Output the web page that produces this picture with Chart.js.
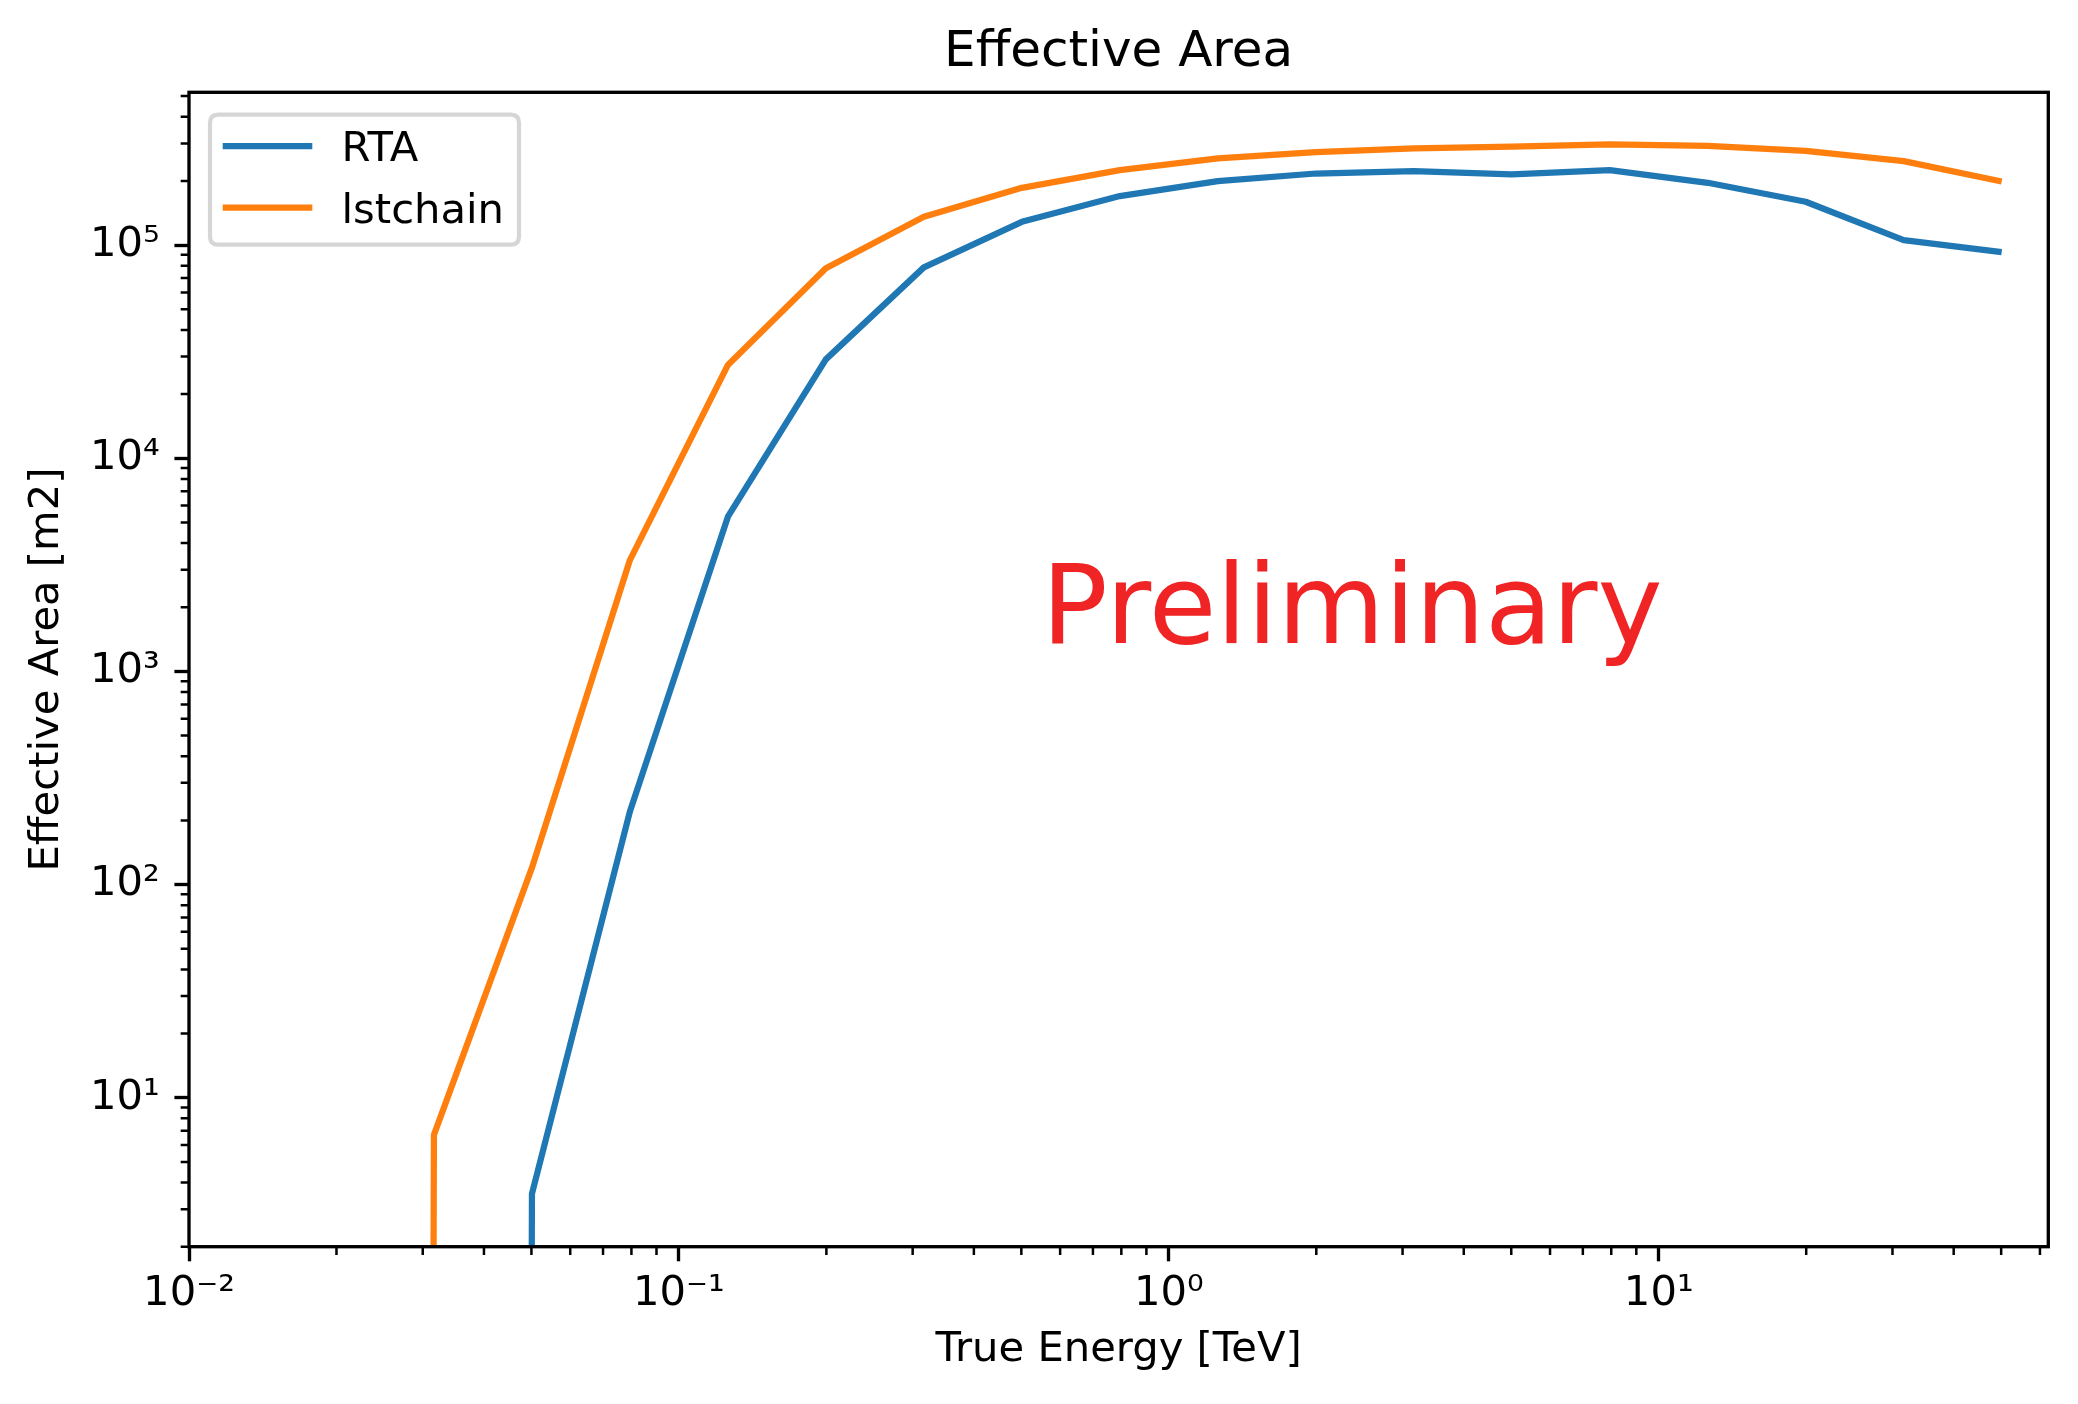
<!DOCTYPE html>
<html>
<head>
<meta charset="utf-8">
<script src="https://cdn.jsdelivr.net/npm/chart.js@4.4.0/dist/chart.umd.min.js"></script>
<style>
  html, body { margin: 0; padding: 0; background: #ffffff; }
  canvas { display: block; }
</style>
</head>
<body>
<canvas id="chart" width="2078" height="1404" style="width:2078px;height:1404px"></canvas>
<script>
// ---------------- data ----------------
const energyTeV = [0.01259, 0.01995, 0.03162, 0.05012, 0.07943, 0.1259, 0.1995, 0.3162, 0.5012, 0.7943,
                   1.259, 1.995, 3.162, 5.012, 7.943, 12.59, 19.95, 31.62, 50.12];
const rtaArea = [0, 0, 0, 3.54, 220, 5320, 29100, 78600, 128600, 169800,
                 199600, 216700, 222200, 214600, 224900, 196000, 159700, 105600, 92700];
const lstchainArea = [0, 0, 6.69, 120, 3330, 27400, 77800, 135800, 185600, 224900,
                      255000, 273000, 284000, 290000, 296500, 292300, 277000, 247700, 198700];
const seriesLabels = ['RTA', 'lstchain'];
const xMajorTicks = [0.01, 0.1, 1, 10];
const yMajorTicks = [10, 100, 1000, 10000, 100000];
const xRange = [0.01, 62.4];
const yRange = [2.0, 5.21e5];
const chartTitle = 'Effective Area';
const xTitle = 'True Energy [TeV]';
const yTitle = 'Effective Area [m2]';
const watermarkText = 'Preliminary';

// ---------------- style ----------------
const FONT = 'DejaVu Sans';
const FS = 41.7;            // 10 pt at 300 dpi
const MAJOR_LEN = 14.6, MINOR_LEN = 8.33, MAJOR_W = 3.33, MINOR_W = 2.5, SPINE_W = 3.33;
const LINE_W = 6.25;
const COLORS = ['#1f77b4', '#ff7f0e'];

Chart.defaults.font.family = FONT;
Chart.defaults.color = '#000000';

const SUP = {'-': '\u207B', '0': '\u2070', '1': '\u00B9', '2': '\u00B2', '3': '\u00B3',
             '4': '\u2074', '5': '\u2075', '6': '\u2076', '7': '\u2077', '8': '\u2078', '9': '\u2079'};
function logLabel(v) {
  const e = String(Math.round(Math.log10(v)));
  return '10' + e.split('').map(c => SUP[c]).join('');
}
function minorValues(min, max) {
  const out = [];
  for (let k = Math.floor(Math.log10(min)) - 1; k <= Math.ceil(Math.log10(max)); k++) {
    for (let m = 2; m <= 9; m++) {
      const v = m * Math.pow(10, k);
      if (v >= min * 0.9995 && v <= max * 1.0005) out.push(v);
    }
  }
  return out;
}
// matplotlib clips non-positive values on a log axis far below the axis,
// which makes the curve drop vertically out of the frame.
function toPoints(values) {
  return energyTeV.map((e, i) => ({ x: e, y: values[i] > 0 ? values[i] : 1e-300 }));
}

const decorPlugin = {
  id: 'mplDecor',
  afterDatasetsDraw(chart) {
    const ctx = chart.ctx;
    const ca = chart.chartArea;
    const xs = chart.scales.x, ys = chart.scales.y;
    const w = ca.right - ca.left, h = ca.bottom - ca.top;
    ctx.save();
    // minor ticks
    ctx.strokeStyle = '#000';
    ctx.lineWidth = MINOR_W;
    ctx.beginPath();
    minorValues(xs.min, xs.max).forEach(v => {
      const px = xs.getPixelForValue(v);
      ctx.moveTo(px, ca.bottom);
      ctx.lineTo(px, ca.bottom + MINOR_LEN);
    });
    minorValues(ys.min, ys.max).forEach(v => {
      const py = ys.getPixelForValue(v);
      ctx.moveTo(ca.left, py);
      ctx.lineTo(ca.left - MINOR_LEN, py);
    });
    ctx.stroke();
    // spines
    ctx.lineWidth = SPINE_W;
    ctx.strokeRect(ca.left, ca.top, w, h);

    // watermark text
    ctx.fillStyle = '#f02424';
    ctx.font = '110px "' + FONT + '"';
    ctx.textAlign = 'left';
    ctx.textBaseline = 'alphabetic';
    ctx.fillText(watermarkText, ca.left + 0.4585 * w, ca.top + 0.477 * h);

    // legend (upper left)
    const bx = ca.left + 21, by = ca.top + 22.4, bw = 309, bh = 130, r = 8.3;
    ctx.beginPath();
    ctx.moveTo(bx + r, by);
    ctx.lineTo(bx + bw - r, by);
    ctx.quadraticCurveTo(bx + bw, by, bx + bw, by + r);
    ctx.lineTo(bx + bw, by + bh - r);
    ctx.quadraticCurveTo(bx + bw, by + bh, bx + bw - r, by + bh);
    ctx.lineTo(bx + r, by + bh);
    ctx.quadraticCurveTo(bx, by + bh, bx, by + bh - r);
    ctx.lineTo(bx, by + r);
    ctx.quadraticCurveTo(bx, by, bx + r, by);
    ctx.closePath();
    ctx.fillStyle = 'rgba(255,255,255,0.8)';
    ctx.fill();
    ctx.lineWidth = 4.2;
    ctx.strokeStyle = '#d6d6d6';
    ctx.stroke();

    ctx.font = FS + 'px "' + FONT + '"';
    ctx.lineCap = 'butt';
    chart.data.datasets.forEach((ds, i) => {
      const hy = ca.top + 53.7 + i * 61.5;
      ctx.strokeStyle = ds.borderColor;
      ctx.lineWidth = LINE_W;
      ctx.beginPath();
      ctx.moveTo(ca.left + 33.7, hy);
      ctx.lineTo(ca.left + 123.3, hy);
      ctx.stroke();
      ctx.fillStyle = '#000';
      ctx.fillText(ds.label, ca.left + 152.5, hy + 15.2);
    });
    ctx.restore();
  }
};

const axisCommon = {
  type: 'logarithmic',
  border: { display: false },
  grid: {
    display: true, drawOnChartArea: false, drawTicks: true,
    tickLength: MAJOR_LEN, tickWidth: MAJOR_W, tickColor: '#000000'
  }
};

new Chart(document.getElementById('chart'), {
  type: 'line',
  data: {
    datasets: [
      { label: seriesLabels[0], data: toPoints(rtaArea), borderColor: COLORS[0], backgroundColor: COLORS[0],
        borderWidth: LINE_W, pointRadius: 0, fill: false, tension: 0, clip: 0, borderJoinStyle: 'round' },
      { label: seriesLabels[1], data: toPoints(lstchainArea), borderColor: COLORS[1], backgroundColor: COLORS[1],
        borderWidth: LINE_W, pointRadius: 0, fill: false, tension: 0, clip: 0, borderJoinStyle: 'round' }
    ]
  },
  options: {
    responsive: false,
    devicePixelRatio: 1,
    animation: false,
    events: [],
    layout: { padding: { left: 0, right: 29.7, top: 0, bottom: 0 } },
    scales: {
      x: Object.assign({}, axisCommon, {
        position: 'bottom',
        min: xRange[0], max: xRange[1],
        afterBuildTicks: s => { s.ticks = xMajorTicks.map(v => ({ value: v })); },
        afterFit: s => { s.height = 157.3; },
        ticks: { callback: v => logLabel(v), autoSkip: false, maxRotation: 0, minRotation: 0,
                 padding: 8, color: '#000', font: { size: FS, family: FONT } },
        title: { display: true, text: xTitle, color: '#000', font: { size: FS, family: FONT },
                 padding: { top: 0, bottom: 28.4 } }
      }),
      y: Object.assign({}, axisCommon, {
        position: 'left',
        min: yRange[0], max: yRange[1],
        afterBuildTicks: s => { s.ticks = yMajorTicks.map(v => ({ value: v })); },
        afterFit: s => { s.width = 189; },
        ticks: { callback: v => logLabel(v), autoSkip: false, padding: 14.6, color: '#000',
                 font: { size: FS, family: FONT } },
        title: { display: true, text: yTitle, color: '#000', font: { size: FS, family: FONT },
                 padding: { top: 22.6, bottom: 0 } }
      })
    },
    plugins: {
      legend: { display: false },
      tooltip: { enabled: false },
      title: { display: true, text: chartTitle, color: '#000', fullSize: false,
               font: { size: 50, weight: 'normal', family: FONT },
               padding: { top: 23.5, bottom: 8.8 } }
    }
  },
  plugins: [decorPlugin]
});
</script>
</body>
</html>
